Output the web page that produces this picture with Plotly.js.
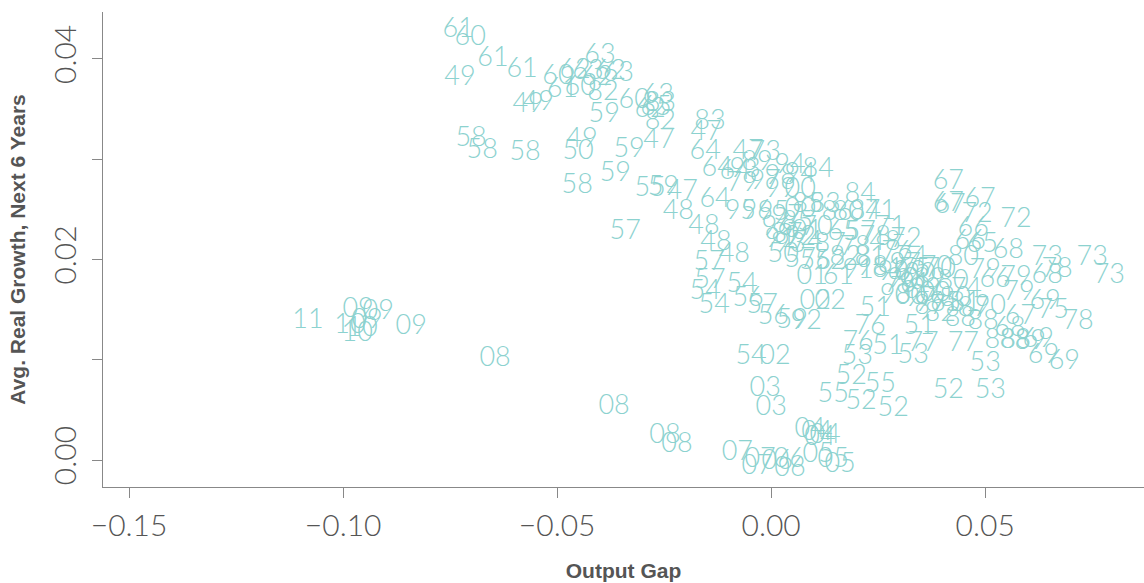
<!DOCTYPE html>
<html>
<head>
<meta charset="utf-8">
<script src="https://cdn.plot.ly/plotly-3.0.1.min.js"></script>
<style>html,body{margin:0;padding:0;background:#fff}#chart{width:1144px;height:583px}</style>
</head>
<body>
<div id="chart"></div>
<script>
// Year labels (two-digit) for each observation
const yearLabels = [
"61","60","61","49","58","58","61","49","49","58","58","50","49","59","59","59","57",
"60","62","63","63","62","63","62","61","60","82",
"60","63","83","62","65","82","47","83","47","64","64","64","47","73",
"55","59","47","48","48","48","48","57","57","54","54","54","56","57","56","59","92",
"02","02","54","02","03","03","04","04","04","04","07","07","07","06","06","05","05","05","06",
"11","09","09","09","09","10","10","10","08","08","08","08",
"94","84","89","64","93","79","97","98","94","99","00","95","96","95","97","00","85","83","86","96","87","70",
"84","85","80","84","71","71","01","65","57","78","48","72","74","87","78","76","01","61","91","98","99","69","70","80",
"50","57","93","91","92","56","52","82","81",
"67","67","67","67","72","72","66","66","65","68","80","73","73","73","78","68","79","66","79","79","74","70",
"69","67","75","78","51","77","77","53","53","52","53","69","69","69","88","88","89","88","88","87","87","90","68",
"51","76","76","51","53","52","55","55","52","52",
"81","90","91","99","00","98","00","97","96","95","80","81","82","76","75","89","90","97","74"
];
// Output gap (x)
const outputGap = [
-0.0731,-0.0703,-0.0650,-0.0727,-0.0701,-0.0675,-0.0582,-0.0568,-0.0544,-0.0575,-0.0453,-0.0451,-0.0442,-0.0390,-0.0332,-0.0364,-0.0341,
-0.0498,-0.0458,-0.0428,-0.0400,-0.0376,-0.0357,-0.0407,-0.0488,-0.0446,-0.0393,
-0.0320,-0.0264,-0.0259,-0.0283,-0.0269,-0.0259,-0.0262,-0.0143,-0.0152,-0.0154,-0.0126,-0.0131,-0.0054,-0.0014,
-0.0283,-0.0252,-0.0208,-0.0217,-0.0157,-0.0129,-0.0086,-0.0145,-0.0143,-0.0068,-0.0154,-0.0133,-0.0054,-0.0021,0.0005,0.0049,0.0082,
0.0103,0.0138,-0.0047,0.0009,-0.0014,0.0000,0.0091,0.0107,0.0114,0.0126,-0.0079,-0.0026,-0.0033,0.0042,0.0044,0.0110,0.0145,0.0161,0.0014,
-0.1082,-0.0965,-0.0918,-0.0944,-0.0841,-0.0984,-0.0967,-0.0956,-0.0645,-0.0367,-0.0248,-0.0220,
0.0044,0.0110,-0.0033,-0.0084,-0.0061,-0.0068,-0.0014,0.0021,0.0068,0.0021,0.0068,-0.0072,-0.0033,0.0005,0.0037,0.0068,0.0061,0.0126,0.0154,0.0014,0.0037,0.0107,
0.0208,0.0086,0.0180,0.0220,0.0255,0.0278,0.0084,0.0168,0.0208,0.0243,0.0266,0.0315,0.0084,0.0138,0.0196,0.0294,0.0096,0.0157,0.0203,0.0236,0.0285,0.0325,0.0386,0.0425,
0.0028,0.0068,0.0044,0.0021,0.0068,0.0103,0.0138,0.0173,0.0231,
0.0414,0.0414,0.0418,0.0488,0.0481,0.0572,0.0472,0.0465,0.0493,0.0554,0.0449,0.0645,0.0750,0.0790,0.0668,0.0645,0.0500,0.0523,0.0572,0.0579,0.0456,0.0395,
0.0640,0.0582,0.0659,0.0717,0.0346,0.0355,0.0449,0.0332,0.0500,0.0414,0.0512,0.0636,0.0685,0.0624,0.0535,0.0570,0.0605,0.0442,0.0495,0.0472,0.0371,0.0512,0.0558,
0.0243,0.0231,0.0203,0.0273,0.0201,0.0187,0.0255,0.0145,0.0210,0.0285,
0.0273,0.0308,0.0336,0.0360,0.0383,0.0290,0.0325,0.0348,0.0371,0.0407,0.0430,0.0453,0.0395,0.0301,0.0336,0.0371,0.0348,0.0313,0.0329
];
// Average real growth over the next 6 years (y)
const growthNext6 = [
0.0429,0.0421,0.0400,0.0381,0.0320,0.0308,0.0389,0.0354,0.0356,0.0306,0.0273,0.0307,0.0319,0.0344,0.0309,0.0285,0.0227,
0.0382,0.0388,0.0387,0.0403,0.0387,0.0385,0.0381,0.0369,0.0371,0.0366,
0.0358,0.0363,0.0355,0.0349,0.0351,0.0337,0.0318,0.0337,0.0326,0.0307,0.0290,0.0259,0.0307,0.0306,
0.0270,0.0271,0.0267,0.0247,0.0232,0.0216,0.0204,0.0196,0.0178,0.0174,0.0167,0.0153,0.0160,0.0153,0.0142,0.0138,0.0137,
0.0157,0.0157,0.0102,0.0102,0.0071,0.0052,0.0030,0.0027,0.0022,0.0024,0.0007,0.0000,-0.0007,0.0000,-0.0009,0.0005,0.0000,-0.0005,-0.0002,
0.0138,0.0149,0.0147,0.0138,0.0132,0.0133,0.0125,0.0130,0.0100,0.0053,0.0024,0.0015,
0.0293,0.0289,0.0296,0.0287,0.0289,0.0275,0.0277,0.0282,0.0284,0.0269,0.0269,0.0247,0.0247,0.0246,0.0242,0.0249,0.0236,0.0254,0.0246,0.0231,0.0224,0.0231,
0.0264,0.0254,0.0246,0.0247,0.0247,0.0231,0.0227,0.0226,0.0226,0.0221,0.0216,0.0219,0.0216,0.0214,0.0211,0.0206,0.0182,0.0182,0.0188,0.0191,0.0186,0.0186,0.0191,0.0177,
0.0204,0.0199,0.0214,0.0219,0.0221,0.0197,0.0197,0.0201,0.0201,
0.0277,0.0255,0.0253,0.0259,0.0244,0.0239,0.0230,0.0217,0.0214,0.0208,0.0201,0.0201,0.0201,0.0183,0.0189,0.0183,0.0188,0.0179,0.0181,0.0166,0.0169,0.0189,
0.0157,0.0142,0.0148,0.0137,0.0132,0.0115,0.0115,0.0103,0.0095,0.0069,0.0069,0.0103,0.0097,0.0119,0.0118,0.0118,0.0117,0.0140,0.0137,0.0150,0.0152,0.0152,0.0130,
0.0150,0.0132,0.0116,0.0112,0.0102,0.0083,0.0075,0.0065,0.0058,0.0051,
0.0189,0.0179,0.0174,0.0169,0.0165,0.0163,0.0162,0.0160,0.0155,0.0155,0.0160,0.0155,0.0145,0.0174,0.0189,0.0179,0.0184,0.0194,0.0201
];
const xTickVals = [-0.15, -0.10, -0.05, 0.00, 0.05];
const xTickText = ["\u22120.15", "\u22120.10", "\u22120.05", "0.00", "0.05"];
const yTickVals = [0.00, 0.02, 0.04];
const yTickText = ["0.00", "0.02", "0.04"];

const labelColor = "#8cd2cf";
const axisGray = "#555555";
const tickFont = {family: "Lato, 'Open Sans', sans-serif", size: 30, color: axisGray, weight: 300};
const titleFont = {family: "'Liberation Sans', Arial, sans-serif", size: 21, color: axisGray, weight: 700};

const trace = {
  type: "scatter",
  mode: "text",
  x: outputGap,
  y: growthNext6,
  text: yearLabels,
  textposition: "middle center",
  textfont: {family: "Lato, 'Open Sans', sans-serif", size: 27, color: labelColor, weight: 300},
  hoverinfo: "x+y+text",
  showlegend: false
};

const layout = {
  width: 1144, height: 583,
  margin: {l: 103, r: 0, t: 12, b: 96},
  paper_bgcolor: "#fff", plot_bgcolor: "#fff",
  xaxis: {
    range: [-0.1561, 0.0871],
    showgrid: false, zeroline: false,
    showline: true, linecolor: "#888", linewidth: 1,
    ticks: "outside", ticklen: 10, tickcolor: "#888",
    tickvals: xTickVals, ticktext: xTickText,
    tickfont: tickFont,
    ticklabelstandoff: 2,
    title: {text: "Output Gap", font: titleFont, standoff: 22}
  },
  yaxis: {
    range: [-0.00269, 0.04467],
    showgrid: false, zeroline: false,
    showline: true, linecolor: "#888", linewidth: 1,
    ticks: "outside", ticklen: 10, tickcolor: "#888",
    tickvals: yTickVals, ticktext: yTickText,
    tickangle: -90,
    tickfont: tickFont,
    ticklabelstandoff: 4,
    minor: {tickvals: [0.01, 0.03], ticks: "outside", ticklen: 10, tickcolor: "#888"},
    title: {text: "Avg. Real Growth, Next 6 Years\u00a0\u00a0\u00a0\u00a0\u00a0\u00a0\u00a0", font: titleFont, standoff: 14}
  }
};

Plotly.newPlot("chart", [trace], layout, {displayModeBar: false, staticPlot: true});
</script>
</body>
</html>
